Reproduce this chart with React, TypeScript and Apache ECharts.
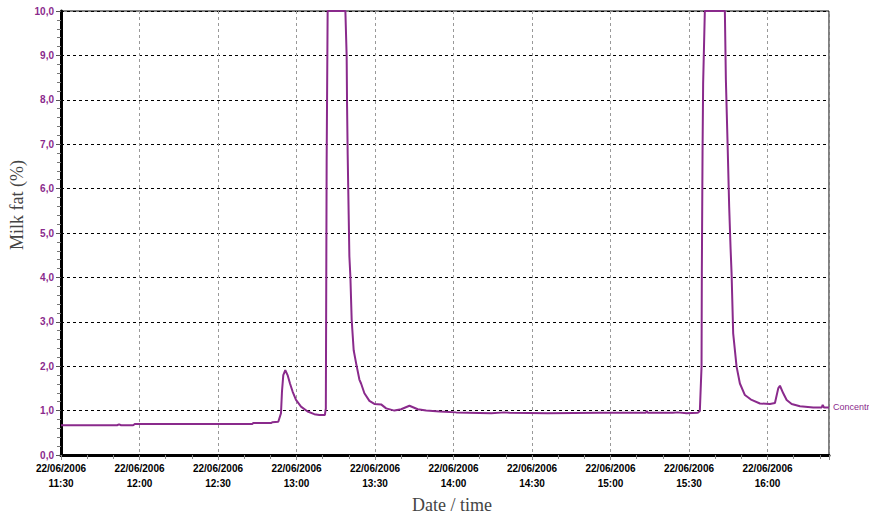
import React, { useEffect, useRef } from "react";
import * as echarts from "echarts";

// Minutes elapsed since 22/06/2006 11:30
const minutesFrom1130 = [
  0, 21.43, 22.19, 22.96, 27.55, 28.32, 73.09, 73.47, 80.36, 80.74,
  83.04, 84.07, 84.45, 84.95, 85.72, 86.59, 87.51, 88.51, 89.81, 91.72,
  94.25, 96.81, 98.73, 100.83, 101.21, 101.52, 101.9, 108.68, 109.17, 109.33,
  109.56, 109.94, 110.21, 110.59, 111.09, 111.85, 112.77, 114.03, 114.68, 115.95,
  117.86, 119.77, 122.33, 124.25, 127.42, 129.99, 133.16, 136.34, 139.55, 144.64,
  151.03, 164.43, 169.52, 171.43, 185.97, 205.87, 223.47, 223.85, 224.24, 233.8,
  235.72, 239.05, 243.37, 244.14, 244.79, 244.9, 245.17, 245.4, 246.05, 253.7,
  254.09, 254.74, 255.35, 255.89, 256.27, 256.88, 258.18, 259.45, 261.36, 263.92,
  267.1, 270.93, 272.84, 274.1, 274.75, 276.02, 277.32, 279.23, 282.4, 287.49,
  290.7, 291.09, 291.59, 293.5,
];

// Milk fat concentration (%)
const milkFat = [
  0.67, 0.67, 0.69, 0.67, 0.67, 0.7, 0.7, 0.72, 0.72, 0.74,
  0.75, 0.94, 1.43, 1.8, 1.91, 1.8, 1.61, 1.43, 1.24, 1.09,
  0.98, 0.92, 0.9, 0.9, 1.05, 6.6, 10, 10, 8.97, 7.84,
  6.76, 5.41, 4.47, 4.02, 3.04, 2.36, 2.07, 1.7, 1.61, 1.39,
  1.22, 1.15, 1.14, 1.05, 1.0, 1.03, 1.11, 1.03, 1.0, 0.98,
  0.96, 0.94, 0.96, 0.95, 0.94, 0.95, 0.95, 0.99, 0.95, 0.95,
  0.96, 0.94, 0.95, 0.99, 1.99, 4.09, 6.8, 8.37, 10, 10,
  8.45, 7.02, 5.59, 4.65, 4.09, 2.74, 1.99, 1.61, 1.35, 1.24,
  1.16, 1.15, 1.17, 1.5, 1.56, 1.39, 1.24, 1.15, 1.1, 1.07,
  1.07, 1.13, 1.07, 1.07,
];

const dateLabel = "22/06/2006";
const seriesName = "Concentr";
const yAxisTitle = "Milk fat (%)";
const xAxisTitle = "Date / time";

const purple = "#8a2a8c";

export default function App() {
  const ref = useRef<HTMLDivElement>(null);
  useEffect(() => {
    if (!ref.current) return;
    const chart = echarts.init(ref.current, undefined, { renderer: "svg" });
    const data = minutesFrom1130.map((m, i) => [m, milkFat[i]]);
    chart.setOption({
      animation: false,
      backgroundColor: "#ffffff",
      grid: {
        left: 61,
        top: 11,
        right: 40,
        bottom: 62,
        show: true,
        borderColor: "#000",
        borderWidth: 1,
      },
      graphic: [
        {
          type: "text",
          x: 17,
          y: 205,
          rotation: Math.PI / 2,
          style: {
            text: yAxisTitle,
            font: '18px "Liberation Serif", serif',
            fill: "#444",
            align: "center",
            verticalAlign: "middle",
          },
        },
        {
          type: "text",
          x: 452,
          y: 505,
          style: {
            text: xAxisTitle,
            font: '18px "Liberation Serif", serif',
            fill: "#444",
            align: "center",
            verticalAlign: "middle",
          },
        },
      ],
      xAxis: {
        type: "value",
        min: 0,
        max: 293.5,
        interval: 30,
        axisLine: { onZero: false, lineStyle: { color: "#000", width: 3 } },
        axisTick: { show: true, length: 5, lineStyle: { color: "#888", width: 1 } },
        minorTick: { show: true, splitNumber: 3, length: 4, lineStyle: { color: "#888" } },
        splitLine: { show: true, lineStyle: { color: "#999", type: [3, 3], width: 1 } },
        axisLabel: {
          showMaxLabel: false,
          margin: 6,
          color: "#000",
          fontFamily: '"Liberation Sans", Arial, sans-serif',
          fontWeight: "bold",
          fontSize: 10,
          lineHeight: 15,
          formatter: (v: number) => {
            if (Math.abs(v % 30) > 0.001) return "";
            const total = 11 * 60 + 30 + v;
            const hh = Math.floor(total / 60);
            const mm = Math.round(total % 60);
            return `${dateLabel}\n${hh}:${mm < 10 ? "0" + mm : mm}`;
          },
        },
      },
      yAxis: {
        type: "value",
        min: 0,
        max: 10,
        interval: 1,
        axisLine: { show: true, lineStyle: { color: "#000", width: 3 } },
        axisTick: { show: true, length: 5, lineStyle: { color: "#555", width: 1 } },
        minorTick: { show: true, splitNumber: 5, length: 4, lineStyle: { color: "#777" } },
        splitLine: { show: true, lineStyle: { color: "#000", type: [3, 3], width: 1 } },
        axisLabel: {
          margin: 7,
          color: purple,
          fontFamily: '"Liberation Sans", Arial, sans-serif',
          fontWeight: "bold",
          fontSize: 10,
          formatter: (v: number) => v.toFixed(1).replace(".", ","),
        },
      },
      series: [
        {
          name: seriesName,
          type: "line",
          data,
          showSymbol: false,
          symbol: "none",
          lineStyle: { color: purple, width: 2 },
          itemStyle: { color: purple },
          endLabel: {
            show: true,
            formatter: seriesName,
            color: purple,
            fontFamily: '"Liberation Sans", Arial, sans-serif',
            fontSize: 9,
            distance: 4,
            overflow: "none",
            width: 60,
          },
        },
      ],
    });
    return () => chart.dispose();
  }, []);
  return (
    <div
      ref={ref}
      style={{ position: "absolute", left: 0, top: 0, width: 869, height: 517 }}
    />
  );
}
